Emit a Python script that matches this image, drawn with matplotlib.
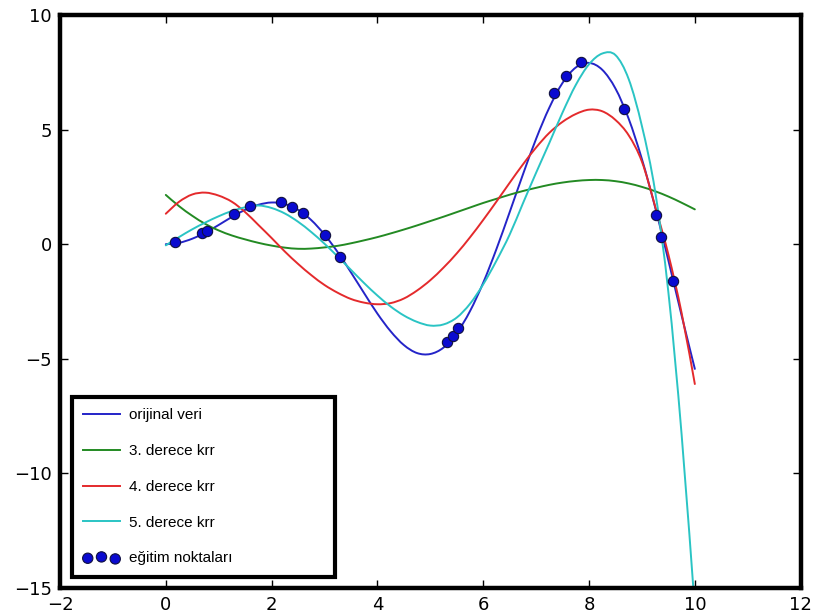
import matplotlib
matplotlib.use('Agg')
import matplotlib.pyplot as plt
from matplotlib.path import Path
from matplotlib.patches import PathPatch
from matplotlib.lines import Line2D

# --------------------------
# 1. Veriler
# --------------------------
# egrilerin x noktalari
x_egri = [0.0, 0.25, 0.5, 0.75, 1.0, 1.25, 1.5, 1.75, 2.0, 2.25,
          2.5, 2.75, 3.0, 3.25, 3.5, 3.75, 4.0, 4.25, 4.5, 4.75,
          5.0, 5.25, 5.5, 5.75, 6.0, 6.25, 6.5, 6.75, 7.0, 7.25,
          7.5, 7.75, 8.0, 8.25, 8.5, 8.75, 9.0, 9.25, 9.5, 9.75, 10.0]

# orijinal veri (mavi)
y_orijinal = [0.00, 0.06, 0.24, 0.51, 0.84, 1.19, 1.50, 1.72, 1.82, 1.75,
              1.50, 1.05, 0.42, -0.35, -1.23, -2.14, -3.03, -3.80, -4.40, -4.75,
              -4.79, -4.51, -3.88, -2.92, -1.68, -0.21, 1.40, 3.04, 4.60, 5.96,
              7.04, 7.71, 7.91, 7.61, 6.79, 5.47, 3.71, 1.61, -0.71, -3.11, -5.44]

# 3. derece (yesil)
y_derece3 = [2.15, 1.66, 1.24, 0.88, 0.60, 0.38, 0.21, 0.06, -0.06, -0.15,
             -0.20, -0.19, -0.14, -0.07, 0.04, 0.17, 0.31, 0.47, 0.64, 0.82,
             1.01, 1.20, 1.40, 1.60, 1.80, 1.98, 2.16, 2.32, 2.46, 2.59,
             2.69, 2.76, 2.80, 2.80, 2.75, 2.65, 2.50, 2.31, 2.08, 1.81, 1.52]

# 4. derece (kirmizi)
y_derece4 = [1.33, 1.85, 2.17, 2.25, 2.12, 1.85, 1.40, 0.84, 0.27, -0.32,
             -0.86, -1.35, -1.78, -2.12, -2.39, -2.55, -2.62, -2.57, -2.37, -2.02,
             -1.57, -1.02, -0.40, 0.30, 1.06, 1.86, 2.68, 3.48, 4.22, 4.86,
             5.34, 5.68, 5.87, 5.80, 5.42, 4.75, 3.60, 1.65, -0.45, -3.00, -6.10]

# 5. derece (camgobegi)
y_derece5 = [-0.05, 0.31, 0.65, 0.95, 1.22, 1.45, 1.61, 1.69, 1.58, 1.34,
             0.98, 0.53, 0.02, -0.54, -1.12, -1.70, -2.24, -2.72, -3.11, -3.39,
             -3.55, -3.50, -3.20, -2.60, -1.75, -0.72, 0.42, 1.78, 3.12, 4.42,
             5.75, 6.95, 7.85, 8.32, 8.25, 7.20, 5.15, 2.30, -2.10, -8.30, -15.90]

# egitim noktalari
x_egitim = [0.17, 0.68, 0.77, 1.28, 1.59, 2.18, 2.38, 2.60, 3.01, 3.30,
            5.32, 5.42, 5.53, 7.34, 7.56, 7.85, 8.66, 9.27, 9.36, 9.58]
y_egitim = [0.08, 0.50, 0.59, 1.31, 1.66, 1.83, 1.64, 1.35, 0.40, -0.57,
            -4.25, -4.00, -3.67, 6.61, 7.34, 7.94, 5.90, 1.27, 0.33, -1.59]

etiketler = ['orijinal veri', '3. derece krr', '4. derece krr', '5. derece krr',
             'eğitim noktaları']
renkler = ['#2424c8', '#238a23', '#e42a2c', '#2ac4c4']
x_ticks = [-2, 0, 2, 4, 6, 8, 10, 12]
y_ticks = [-15, -10, -5, 0, 5, 10]


# --------------------------
# 2. Yardimci fonksiyon
# --------------------------
def yumusak_egri(ax, xs, ys, renk):
    """Noktalardan gecen yumusak (Catmull-Rom / Bezier) cizgi ciz"""
    n = len(xs)
    verts = [(xs[0], ys[0])]
    codes = [Path.MOVETO]
    for i in range(n - 1):
        a = max(i - 1, 0)
        d = min(i + 2, n - 1)
        c1 = (xs[i] + (xs[i + 1] - xs[a]) / 6.0, ys[i] + (ys[i + 1] - ys[a]) / 6.0)
        c2 = (xs[i + 1] - (xs[d] - xs[i]) / 6.0, ys[i + 1] - (ys[d] - ys[i]) / 6.0)
        verts += [c1, c2, (xs[i + 1], ys[i + 1])]
        codes += [Path.CURVE4] * 3
    patch = PathPatch(Path(verts, codes), facecolor='none', edgecolor=renk,
                      lw=1.4, capstyle='round', joinstyle='round')
    ax.add_patch(patch)


# --------------------------
# 3. Cizim
# --------------------------
fig = plt.figure(figsize=(8.13, 6.15), dpi=100)
ax = fig.add_axes([0.0738, 0.0439, 0.911, 0.9317])

egriler = [y_orijinal, y_derece3, y_derece4, y_derece5]
for ys, renk in zip(egriler, renkler):
    yumusak_egri(ax, x_egri, ys, renk)

nokta = ax.scatter(x_egitim, y_egitim, s=55, color='#0a0ad0', edgecolors='#101040',
                   linewidths=0.8, zorder=5)

ax.set_xlim(-2, 12)
ax.set_ylim(-15, 10)
ax.set_xticks(x_ticks)
ax.set_yticks(y_ticks)
ax.tick_params(direction='in', length=6, width=1, top=True, right=True,
               labelsize=13, pad=6)
for s in ax.spines.values():
    s.set_linewidth(3.2)

# lejant
handles = [Line2D([], [], color=r, lw=1.4) for r in renkler] + [nokta]
leg = ax.legend(handles, etiketler, loc='lower left',
                bbox_to_anchor=(0.0158, 0.0197, 0.355, 0.3),
                mode='expand', borderaxespad=0, fancybox=False, framealpha=1,
                scatterpoints=3, scatteryoffsets=[0.375, 0.5, 0.3125],
                prop={'family': ['Liberation Sans', 'DejaVu Sans'], 'size': 11},
                labelspacing=1.42, handlelength=2.4, handletextpad=0.6,
                borderpad=0.75)
leg.get_frame().set_edgecolor('black')
leg.get_frame().set_linewidth(3.0)

fig.savefig('out.png', dpi=100)
